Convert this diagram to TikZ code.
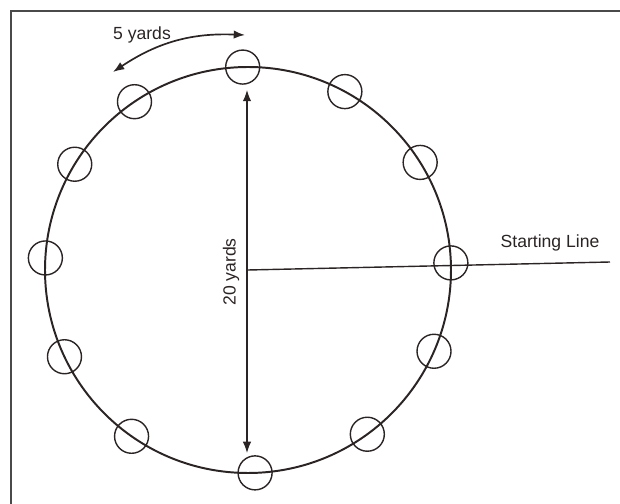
\documentclass[tikz,border=0pt]{standalone}
\usepackage{fontspec}
\setmainfont{Liberation Sans}
\usetikzlibrary{arrows.meta}
\definecolor{cink}{HTML}{2B2424}
\definecolor{cframe}{HTML}{4A4A4A}

\begin{document}
\begin{tikzpicture}[x=0.025cm,y=-0.025cm,font=\fontsize{12.5}{14}\selectfont,
    spot/.style={draw=cink,line width=1pt,circle,minimum size=0.85cm,inner sep=0pt},
    dim/.style={cink,line width=0.8pt,{Latex[length=8pt,width=6pt]}-{Latex[length=8pt,width=6pt]}}]
    \useasboundingbox (0,0) rectangle (620,504);
    % ---- frame (top and left edge only)
    \draw[cframe,line width=1.2pt] (11,504) -- (11,11) -- (620,11);
    % ---- track circle
    \coordinate (O) at (248,270);
    \draw[cink,line width=1.4pt] (O) circle [radius=203];
    % ---- cones, angles measured clockwise from east
    \foreach \a [count=\i] in {-91.5,-61.5,-32,-2,23.6,54,88,125,154.7,183.4,211.4,236}
      \node[spot] (m\i) at ([shift={(\a:203)}]O) {};
    % ---- diameter
    \coordinate (dtop) at (247,90);
    \coordinate (dbot) at (247,453);
    \draw[dim] (dtop) -- (dbot);
    \node[rotate=90,cink] (dlab) at (231,272) {20 yards};
    % ---- starting line
    \coordinate (sl) at (610,262);
    \draw[cink,line width=1pt] (O) -- (sl);
    \node[cink] (sltext) at (550,243) {Starting Line};
    % ---- spacing between cones
    \coordinate (sa) at (113,72);
    \coordinate (sb) at (245,35);
    \draw[dim,line width=1.2pt] (sa) to[bend left=18] (sb);
    \node[cink] (slab) at (142,35) {5 yards};
  \end{tikzpicture}
\end{document}
